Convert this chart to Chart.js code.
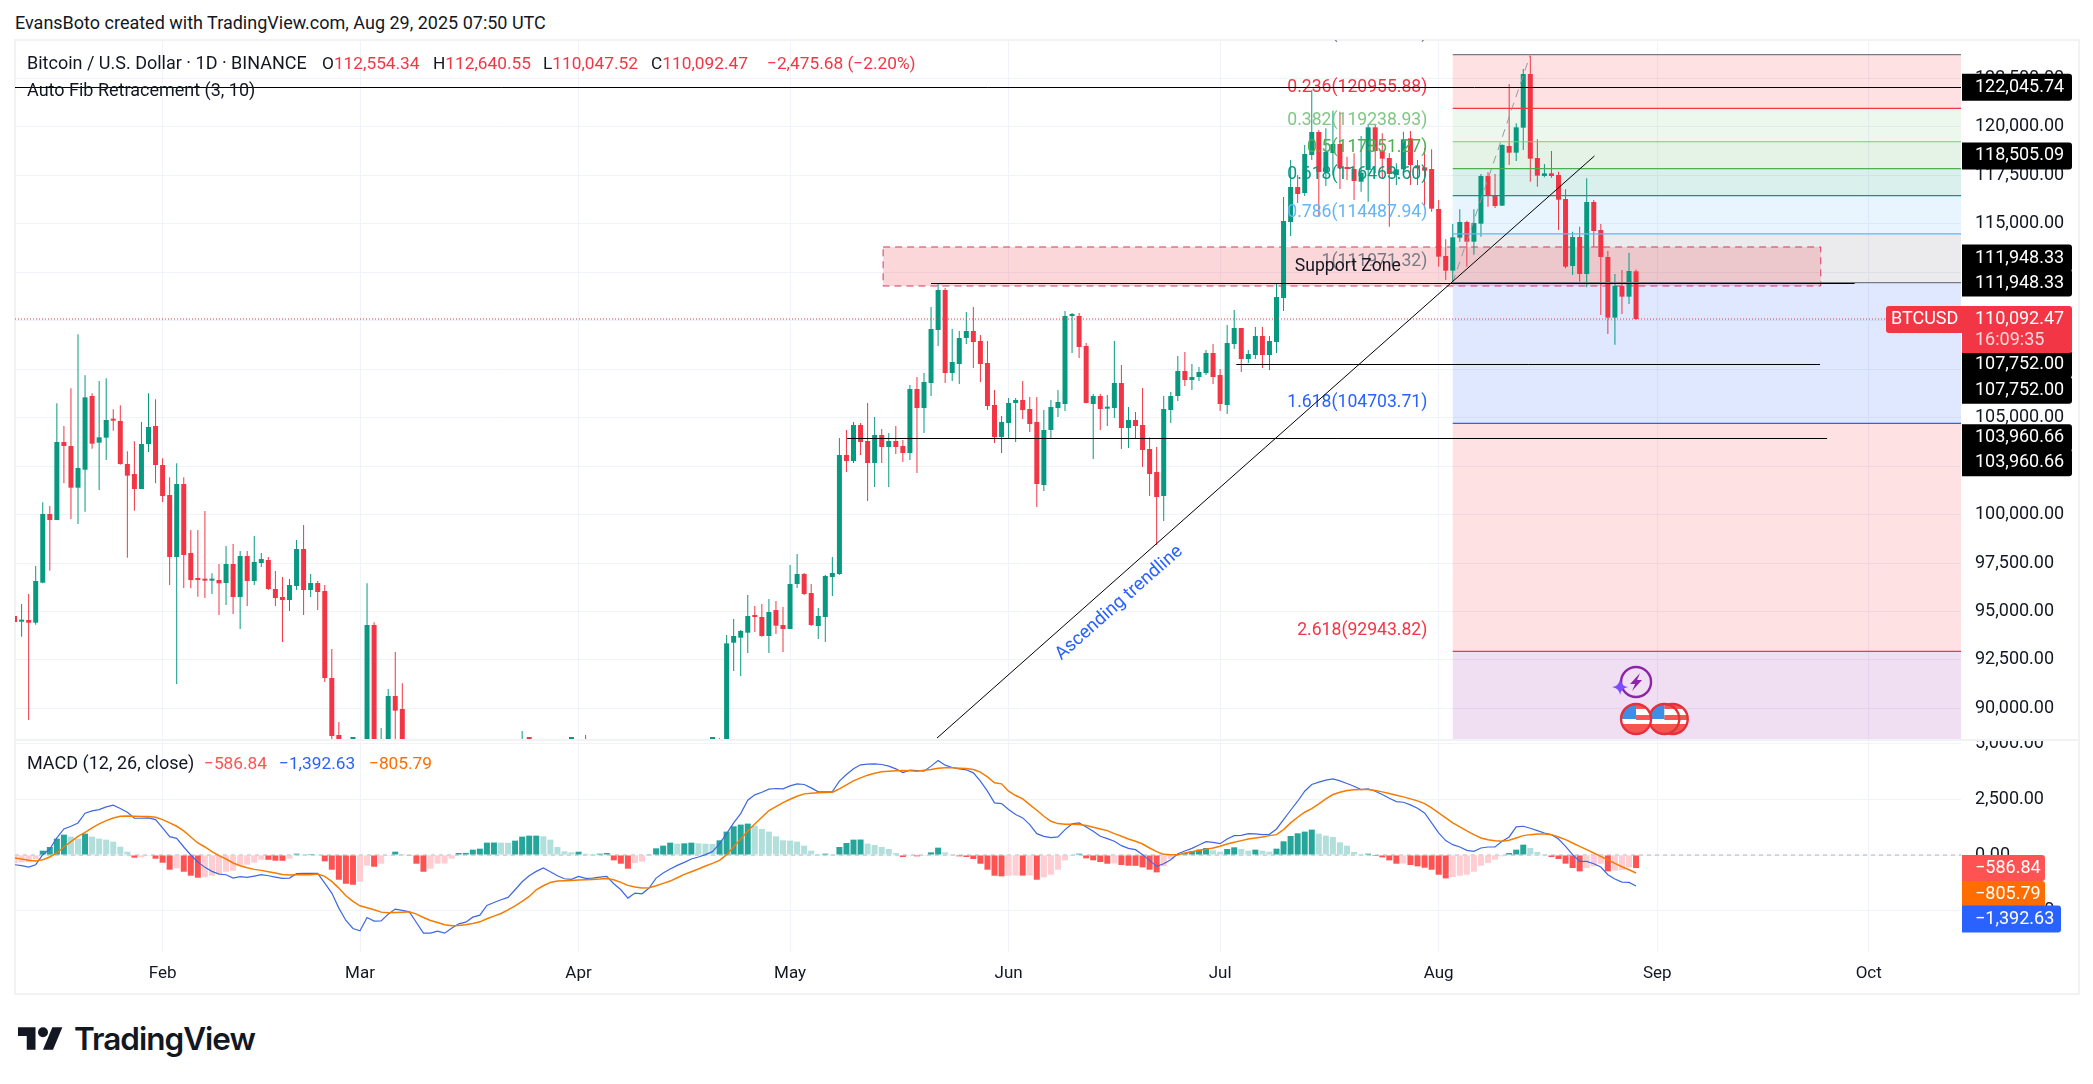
<!DOCTYPE html>
<html>
<head>
<meta charset="utf-8">
<title>BTCUSD</title>
<script src="https://cdn.jsdelivr.net/npm/chart.js@4"></script>
<style>
  html, body { margin: 0; padding: 0; background: #fff; }
  body { width: 2093px; height: 1084px; position: relative; overflow: hidden; font-family: Roboto, sans-serif; color: #131722; }
  canvas { position: absolute; left: 15px; }
  #priceChart { top: 40px; }
  #macdChart { top: 741px; }
  #frame { position: absolute; left: 14px; top: 39px; width: 2062px; height: 952px; border: 2px solid #f1f2f5; box-sizing: content-box; }
  #sep { position: absolute; left: 15px; top: 739px; width: 2063px; height: 2px; background: #f1f2f5; }
  .t { position: absolute; font-size: 18px; line-height: 24px; white-space: nowrap; }
  .n { font-size: 17.3px; }
  .r { color: #f23645; }
  #logo { position: absolute; left: 18px; top: 1027px; }
  #brand { position: absolute; left: 74px; top: 1018px; font-family: Inter, sans-serif; font-weight: 600; font-size: 31.5px; line-height: 42px; letter-spacing: -1px; color: #131722; }
</style>
</head>
<body>
<div id="frame"></div>
<canvas id="priceChart" width="2063" height="699"></canvas>
<div id="sep"></div>
<canvas id="macdChart" width="2063" height="253"></canvas>

<div class="t" style="left:15px;top:11px">EvansBoto created with TradingView.com, Aug 29, 2025 07:50 UTC</div>
<div class="t" style="left:27px;top:51px">Bitcoin / U.S. Dollar · 1D · BINANCE</div>
<div class="t n" style="left:322px;top:51px">O<span class="r">112,554.34</span></div>
<div class="t n" style="left:433px;top:51px">H<span class="r">112,640.55</span></div>
<div class="t n" style="left:543px;top:51px">L<span class="r">110,047.52</span></div>
<div class="t n" style="left:651px;top:51px">C<span class="r">110,092.47</span></div>
<div class="t n r" style="left:767px;top:51px">−2,475.68 (−2.20%)</div>
<div class="t" style="left:27px;top:78px">Auto Fib Retracement (3, 10)</div>
<div class="t" style="left:27px;top:751px">MACD (12, 26, close)</div>
<div class="t n" style="left:204px;top:751px;color:#ff5252">−586.84</div>
<div class="t n" style="left:279px;top:751px;color:#2962ff">−1,392.63</div>
<div class="t n" style="left:369px;top:751px;color:#ff6d00">−805.79</div>

<svg id="logo" width="45" height="23" viewBox="0 4 36 18"><path d="M14 22H7V11H0V4h14v18zM28 22h-8l7.5-18h8L28 22z" fill="#131722"/><circle cx="20" cy="8" r="4" fill="#131722"/></svg>
<div id="brand">TradingView</div>

<script>
// days are counted from Jan 11 2025 (index 0)
const opens = [
  94767,94475,94561,94423,96487,100031,99721,103746,103539,101389,
  102318,106120,103711,103969,104881,104829,102611,102095,101321,103643,104571,
  102559,101011,97812,101579,98018,96677,96625,96591,96625,96470,
  97451,95748,97863,96573,97502,97657,96161,95748,95593,96315,
  98225,96109,96470,96057,91568,88627,84700,84300,
  84400,86000,94303,86200,87200,90640,89968,86800,86200,80700,
  78600,82900,83700,81100,83900,84300,82600,84000,82700,86800,
  84200,84000,83800,86000,87500,87400,86900,87200,84300,82600,82400,
  82500,85100,82500,83100,83800,83500,78400,79100,76300,82600,
  79600,83400,85300,83700,84500,83600,84000,84900,84500,85100,
  85100,87500,93391,93649,93907,94750,94716,93735,95077,94303,
  94097,96419,96935,95954,94251,94716,96780,96935,103075,102765,
  104623,103797,102662,104107,103488,103797,103539,103178,106481,105500,
  106790,109525,111589,107306,107771,109112,109473,108957,107822,105655,104004,
  104726,105758,105913,105448,104778,101527,104365,105500,105707,110247,
  110247,108699,105707,106119,105466,105500,106790,104468,104881,104623,
  103385,102198,100959,105397,106120,107409,106945,107100,107306,108338,
  107203,105655,108802,109628,108029,108235,109215,108235,108906,111176,
  115098,116904,116594,118555,119742,117678,118658,119123,117919,117833,
  117179,117781,119983,118761,118400,117523,117815,119415,118022,117919,117833,
  115769,113343,112587,114289,115098,114083,115012,117471,116457,115941,
  119019,118675,119965,122735,118400,117471,117609,117523,116285,112827,
  114324,112415,116130,114685,113292,110162,111795,111245,112554.34,
];
const closes = [
  94458,94561,94423,96573,100031,99721,103746,103539,101389,102404,
  106051,103660,103987,104881,104847,102611,102009,101321,103643,104520,102559,
  100959,97812,101579,97915,96625,96625,96591,96625,96453,97451,
  95748,97863,96573,97554,97709,96161,95696,95593,96367,98225,
  96109,96470,96006,91568,88575,84700,84300,84400,
  86000,94303,86200,87200,90640,89883,86800,86200,80700,78600,
  82900,83700,81100,83900,84300,82600,84000,82700,86800,84200,
  84000,83800,86000,87500,87400,86900,87200,84300,82600,82400,82500,
  85100,82500,83100,83800,83500,78400,79100,76300,82600,79600,
  83400,85300,83700,84500,83600,84000,84900,84500,85100,85100,
  87500,93357,93735,93993,94767,94716,93735,94974,94269,94097,
  96419,96935,95903,94303,94767,96832,96986,103075,102765,104623,
  103746,102662,104107,103488,103797,103488,103178,106481,105500,106842,
  109577,111589,107306,107874,109112,109473,108906,107771,105603,104004,104778,
  105758,105913,105397,104675,101579,104365,105552,105810,110247,110300,
  108648,105758,106119,105448,105552,106790,104468,104881,104571,103333,
  102095,100908,105448,106120,107409,106945,107100,107358,108338,107100,
  105707,108854,109628,108029,108287,109215,108235,108957,111228,115149,
  116904,116543,118607,119742,117678,118710,119123,117867,117833,117213,
  117644,119983,118761,118366,117575,117815,119363,118039,117867,117747,115786,
  113309,112587,114307,115098,114083,115046,117471,116457,115923,119071,
  118675,119983,122735,118366,117489,117609,117471,116250,112793,114324,
  112415,116130,114633,113292,110162,111795,111245,112569,110092.47,
];
const highs = [
  94800,95387,95903,97347,100633,100443,105741,104571,106515,109301,
  107186,106257,106893,107031,105431,105638,103264,103780,104778,106257,105947,
  102903,101923,102645,101923,99205,99205,100185,96969,97451,98379,
  98482,98121,98121,98895,98018,97812,97089,96780,96677,98689,
  99463,96935,96573,96367,93065,89298,87000,85100,
  86500,96453,94441,88988,90999,92910,91293,86900,86500,84000,
  83600,84400,84300,85300,84700,85100,84800,84000,87400,87400,
  84800,84500,86000,88834,88524,88200,87800,87500,84600,83500,83900,
  85500,88627,83900,84700,84200,83800,81200,80800,83500,82700,
  84300,85900,86100,85800,86500,85500,85500,85100,85700,85300,
  88460,93787,94613,94045,95851,95283,95387,95645,95541,95232,
  97399,97967,96986,96419,95180,96883,97811,103952,104365,104778,
  104726,105758,105036,104417,104210,104571,103849,106687,107100,107306,
  110712,111899,111692,109577,109473,110454,110712,109267,108957,106429,105087,
  106016,106016,106893,106068,106068,105397,105913,106429,110505,110402,
  110402,108854,106223,106223,106171,108957,107719,105552,105294,106532,
  103982,103488,106120,106326,108183,108390,107771,107615,108493,108802,
  107513,109783,110557,109594,108493,109680,109680,109215,111950,116388,
  118297,117523,119071,121909,119845,119931,120843,120791,118469,118641,
  119535,120155,120103,119673,118641,118125,119759,119793,118297,118899,118847,
  116233,114203,114995,115751,115167,115751,117575,117661,117575,119105,
  122219,120189,122993,123663,119363,118091,118761,117695,116783,114599,
  114857,117351,116233,114995,113601,112415,112621,113515,112640.55,
];
const lows = [
  94400,93701,89401,94320,96453,97107,99721,101613,99773,99515,
  100151,103402,101269,102817,104331,102576,97777,100203,101321,103230,101613,
  100650,96367,91259,96212,96195,95765,95696,95903,94819,95335,
  94871,94097,95283,96367,97296,96109,95283,93426,95025,96109,
  94819,95748,95077,91362,88197,82200,82700,78200,
  83800,85000,85100,81500,86400,87800,84700,85900,80000,77400,
  76600,80600,79900,80800,83600,81900,82500,81100,82400,83600,
  83200,83600,83300,85500,86300,86000,85800,83500,81600,81600,81300,
  82400,82300,81100,81700,82400,77200,74500,76200,74600,78400,
  78900,82800,83000,83100,83600,83100,83700,84100,84300,83900,
  85000,87100,91930,91671,92858,93941,93701,92858,93839,92910,
  94097,96212,95851,94251,93581,93426,95799,96883,102198,102662,
  103075,100701,101424,102662,101424,103127,102714,102817,102146,104210,
  106119,108699,106790,106893,106739,108803,107564,106842,105397,103694,103178,
  103952,103746,104933,104262,100392,101217,103935,105036,105345,108338,
  108080,105741,102869,104365,104571,104984,103385,103436,103900,102456,
  100959,98431,99670,104726,105861,106635,106429,106893,107203,106739,
  105345,105191,108545,107358,107822,108029,107564,107461,108338,110505,
  114375,116078,116439,118297,115373,116955,117523,116801,117265,116233,
  116663,116147,117609,117351,114857,117007,117609,117007,117007,115803,115631,
  112793,112105,112019,114083,112793,113412,114341,115889,115820,115923,
  118039,118245,118813,117179,116921,117403,117386,114685,112707,112363,
  112019,111727,113825,110299,109319,108768,110351,110867,110047.52,
];

const macdLine = [
  -435,-480,-540,-435,15,270,765,1170,1290,1440,
  1875,1980,2040,2160,2235,2085,1920,1650,1650,1665,
  1590,1215,825,750,360,0,-315,-555,-735,-855,
  -885,-1035,-975,-1005,-945,-885,-930,-990,-1050,-1035,
  -840,-825,-825,-825,-1260,-1710,-2385,-2940,-3300,-3405,
  -2805,-2970,-2955,-2655,-2430,-2490,-2550,-3030,-3510,-3510,
  -3420,-3510,-3285,-3090,-3015,-2790,-2700,-2265,-2130,-2010,
  -1905,-1560,-1200,-930,-735,-585,-750,-930,-1065,-1095,
  -960,-1050,-1035,-990,-960,-1290,-1560,-1935,-1710,-1740,
  -1485,-1035,-810,-630,-465,-330,-180,-90,15,150,
  510,960,1440,1860,2460,2700,2820,2955,2985,2970,
  3105,3195,3165,3015,2835,2835,2850,3315,3615,3870,
  4050,4080,4095,4065,3990,3870,3705,3810,3795,3765,
  3990,4245,4035,3930,3870,3825,3690,3315,2865,2340,
  2310,2040,1815,1665,1365,960,840,780,810,1140,
  1395,1440,1260,1065,840,735,615,420,300,240,
  15,-240,-510,-390,-210,60,180,300,450,600,
  570,510,720,870,885,960,945,915,930,1170,
  1590,2010,2415,2865,3165,3270,3360,3420,3330,3210,
  3090,2940,2970,2865,2715,2550,2400,2370,2250,2100,
  1890,1440,990,645,465,360,210,165,315,360,
  360,615,810,1260,1290,1200,1095,990,915,720,
  390,15,-285,-285,-390,-540,-885,-1080,-1215,-1230,
  -1392.63,
];
const signalLine = [
  -135,-180,-240,-270,-210,-90,90,360,600,840,
  1020,1215,1395,1545,1665,1740,1755,1740,1725,1725,
  1695,1590,1440,1290,1080,810,540,360,150,-30,
  -180,-360,-480,-570,-645,-690,-750,-810,-870,-900,
  -885,-885,-885,-855,-960,-1185,-1485,-1830,-2085,-2280,
  -2370,-2460,-2565,-2595,-2580,-2565,-2550,-2655,-2805,-2940,
  -3030,-3135,-3180,-3165,-3135,-3075,-3000,-2865,-2745,-2625,
  -2460,-2280,-2085,-1860,-1560,-1380,-1230,-1170,-1155,-1140,
  -1125,-1110,-1095,-1080,-1050,-1110,-1230,-1365,-1440,-1485,
  -1470,-1380,-1275,-1170,-1020,-870,-750,-630,-495,-375,
  -240,15,375,720,1080,1395,1695,1995,2175,2355,
  2505,2640,2745,2775,2790,2805,2820,2970,3150,3330,
  3465,3585,3675,3735,3765,3780,3795,3780,3765,3810,
  3840,3900,3915,3915,3900,3885,3840,3720,3510,3240,
  3195,2865,2670,2520,2265,2010,1740,1515,1410,1380,
  1380,1365,1320,1245,1170,1095,960,840,720,615,
  495,315,150,30,15,15,90,150,210,255,
  315,390,495,570,645,720,765,810,870,915,
  1140,1440,1695,1920,2085,2295,2520,2715,2820,2895,
  2925,2940,2940,2895,2835,2760,2685,2610,2520,2430,
  2310,2115,1890,1665,1440,1260,1080,915,765,690,
  645,615,660,765,870,915,945,945,915,810,
  690,540,390,240,90,-60,-225,-375,-525,-660,
  -805.79,
];
const histogram = [
  -370,-330,-320,-180,195,360,735,915,825,735,
  960,825,735,690,600,375,150,-120,-100,-30,
  -165,-345,-660,-600,-750,-930,-1020,-1000,-930,-840,
  -750,-705,-480,-435,-345,-210,-215,-255,-260,-165,
  60,15,45,15,-285,-660,-1110,-1290,-1335,-1200,
  -480,-525,-390,-30,150,45,-30,-390,-750,-615,
  -390,-380,-165,90,95,240,285,555,560,555,
  550,645,825,870,870,840,690,360,165,120,
  150,60,45,60,90,-240,-390,-615,-360,-300,
  15,300,420,555,510,525,555,525,510,495,
  660,1050,1290,1365,1410,1320,1170,1050,840,660,
  645,600,420,195,45,60,15,360,540,690,
  695,510,450,360,270,90,-90,-15,-60,-15,
  120,330,120,10,-60,-90,-180,-390,-660,-930,
  -960,-930,-920,-925,-920,-1110,-1005,-885,-660,-240,
  -10,60,-150,-240,-315,-390,-380,-450,-480,-485,
  -555,-660,-780,-510,-180,15,90,165,240,315,
  210,150,270,345,270,195,240,195,150,285,
  615,855,975,1050,1140,960,870,810,570,420,
  135,15,60,-45,-105,-240,-390,-385,-450,-510,
  -570,-660,-885,-1050,-990,-930,-885,-750,-480,-360,
  -210,-60,90,240,465,315,135,5,-90,-180,
  -390,-585,-735,-585,-510,-390,-735,-700,-675,-550,
  -586.84,
];

const monthDays = [21, 49, 80, 110, 141, 171, 202, 233, 263];
const monthLabels = ["Feb", "Mar", "Apr", "May", "Jun", "Jul", "Aug", "Sep", "Oct"];
const priceTicks = [122500, 120000, 117500, 115000, 112500, 110000, 107500, 105000, 102500, 100000, 97500, 95000, 92500, 90000];
const macdTicks = [5000, 2500, 0, -2500];

const fibRatios = ["0", "0.236", "0.382", "0.5", "0.618", "0.786", "1", "1.618", "2.618"];
const fibPrices = [123731.21, 120955.88, 119238.93, 117851.27, 116463.60, 114487.94, 111971.32, 104703.71, 92943.82];
const fibColors = ["#787b86", "#f23645", "#81c784", "#4caf50", "#089981", "#64b5f6", "#787b86", "#2962ff", "#f23645"];
const fibBands = ["rgba(242,54,69,.15)", "rgba(129,199,132,.15)", "rgba(76,175,80,.15)", "rgba(8,153,129,.15)", "rgba(100,181,246,.15)", "rgba(120,123,134,.15)", "rgba(41,98,255,.15)", "rgba(242,54,69,.15)", "rgba(156,39,176,.15)"];
const fibStartDay = 204;

const hLinePrices = [122045.74, 111948.33, 107752, 103960.66];
const hLineFrom = [0, 130, 173.3, 118.1];
const hLineTo = [276.1, 261, 256.1, 257.1];
const zoneDays = [123.2, 256.2];
const zonePrices = [113808, 111796];
const trendDays = [130.85, 224.1];
const trendPrices = [88472, 118505.09];
const fibAnchorDays = [204, 215];
const eventDays = [235.2, 234, 230];
const lastPrice = 110092.47;

const green = "#089981";
const red = "#f23645";
const FONT = "Roboto, sans-serif";

const days = closes.map((c, i) => i);
const candleColors = closes.map((c, i) => (c >= opens[i] ? green : red));
const histColors = histogram.map((v, i) => {
  const prev = i ? histogram[i - 1] : v;
  if (v >= 0) return v >= prev && i ? "#26a69a" : "#b2dfdb";
  return v <= prev && i ? "#ff5252" : "#ffcdd2";
});

function rightTag(ctx, chart, text, y, color, width, height) {
  const left = chart.chartArea.right + 1;
  ctx.fillStyle = color;
  ctx.beginPath();
  ctx.roundRect(left, y - height / 2, width, height, [0, 3, 3, 0]);
  ctx.fill();
  ctx.fillStyle = "#fff";
  ctx.font = "18px " + FONT;
  ctx.textAlign = "left";
  ctx.textBaseline = "middle";
  ctx.fillText(text, left + 13, y);
}

function flagIcon(ctx, cx, cy) {
  ctx.save();
  ctx.beginPath();
  ctx.arc(cx, cy, 15, 0, Math.PI * 2);
  ctx.fillStyle = "#fff";
  ctx.fill();
  ctx.clip();
  ctx.fillStyle = "#f4574f";
  ctx.fillRect(cx - 15, cy + 5, 30, 10);
  ctx.fillRect(cx, cy - 4, 15, 5);
  ctx.fillRect(cx, cy - 15, 15, 5);
  ctx.fillStyle = "#3d8ee6";
  ctx.fillRect(cx - 15, cy - 15, 15, 15);
  ctx.restore();
  ctx.beginPath();
  ctx.arc(cx, cy, 15, 0, Math.PI * 2);
  ctx.strokeStyle = "#e8303c";
  ctx.lineWidth = 2.4;
  ctx.stroke();
}

function boltIcon(ctx, cx, cy) {
  ctx.beginPath();
  ctx.arc(cx, cy, 15, 0, Math.PI * 2);
  ctx.strokeStyle = "#8e24aa";
  ctx.lineWidth = 2.4;
  ctx.stroke();
  ctx.fillStyle = "#8e24aa";
  ctx.beginPath();
  ctx.moveTo(cx + 4, cy - 9);
  ctx.lineTo(cx - 6, cy + 2);
  ctx.lineTo(cx - 1, cy + 2);
  ctx.lineTo(cx - 4, cy + 9);
  ctx.lineTo(cx + 6, cy - 2);
  ctx.lineTo(cx + 1, cy - 2);
  ctx.closePath();
  ctx.fill();
  const sx = cx - 16, sy = cy + 5;
  ctx.fillStyle = "#7c4dff";
  ctx.beginPath();
  ctx.moveTo(sx, sy - 8);
  ctx.quadraticCurveTo(sx + 1, sy - 1, sx + 8, sy);
  ctx.quadraticCurveTo(sx + 1, sy + 1, sx, sy + 8);
  ctx.quadraticCurveTo(sx - 1, sy + 1, sx - 8, sy);
  ctx.quadraticCurveTo(sx - 1, sy - 1, sx, sy - 8);
  ctx.fill();
}

const priceUnderlay = {
  id: "priceUnderlay",
  beforeDatasetsDraw(chart) {
    const { ctx, chartArea: area, scales } = chart;
    const x = scales.x, y = scales.y;
    ctx.save();
    ctx.beginPath();
    ctx.rect(area.left, area.top, area.width, area.height);
    ctx.clip();
    const left = x.getPixelForValue(fibStartDay);
    fibPrices.forEach((p, i) => {
      const top = y.getPixelForValue(p);
      const prev = i ? y.getPixelForValue(fibPrices[i - 1]) : top;
      const bottom = i === fibPrices.length - 1 ? area.bottom : y.getPixelForValue(fibPrices[i + 1]);
      if (i) {
        ctx.fillStyle = fibBands[i - 1];
        ctx.fillRect(left, prev, area.right - left, top - prev);
      }
      if (i === fibPrices.length - 1) {
        ctx.fillStyle = fibBands[i];
        ctx.fillRect(left, top, area.right - left, bottom - top);
      }
    });
    // support zone
    const zx = x.getPixelForValue(zoneDays[0]);
    const zw = x.getPixelForValue(zoneDays[1]) - zx;
    const zy = y.getPixelForValue(zonePrices[0]);
    const zh = y.getPixelForValue(zonePrices[1]) - zy;
    ctx.fillStyle = "rgba(242,54,69,.2)";
    ctx.fillRect(zx, zy, zw, zh);
    ctx.setLineDash([7, 5]);
    ctx.strokeStyle = "#d9375a";
    ctx.lineWidth = 1;
    ctx.strokeRect(zx, zy, zw, zh);
    ctx.setLineDash([]);
    ctx.restore();
  },
  afterDatasetsDraw(chart) {
    const { ctx, chartArea: area, scales } = chart;
    const x = scales.x, y = scales.y;
    ctx.save();
    ctx.beginPath();
    ctx.rect(area.left, area.top, area.width, area.height);
    ctx.clip();
    const left = x.getPixelForValue(fibStartDay);
    // fib levels and their labels
    ctx.font = "17.6px " + FONT;
    ctx.textBaseline = "middle";
    ctx.textAlign = "right";
    const labelX = x.getPixelForValue(200.4);
    fibPrices.forEach((p, i) => {
      const py = y.getPixelForValue(p);
      ctx.strokeStyle = fibColors[i];
      ctx.lineWidth = 1.2;
      ctx.beginPath();
      ctx.moveTo(left, py);
      ctx.lineTo(area.right, py);
      ctx.stroke();
      ctx.fillStyle = fibColors[i];
      ctx.fillText(fibRatios[i] + "(" + p.toFixed(2) + ")", labelX, py - 21);
    });
    // fib anchor line
    ctx.setLineDash([8, 6]);
    ctx.strokeStyle = "#9598a1";
    ctx.lineWidth = 1;
    ctx.beginPath();
    ctx.moveTo(x.getPixelForValue(fibAnchorDays[0]), y.getPixelForValue(fibPrices[6]));
    ctx.lineTo(x.getPixelForValue(fibAnchorDays[1]), y.getPixelForValue(fibPrices[0]));
    ctx.stroke();
    ctx.setLineDash([]);
    // last price dotted line
    ctx.setLineDash([1, 2]);
    ctx.strokeStyle = red;
    ctx.beginPath();
    ctx.moveTo(area.left, y.getPixelForValue(lastPrice));
    ctx.lineTo(area.right, y.getPixelForValue(lastPrice));
    ctx.stroke();
    ctx.setLineDash([]);
    // drawn black lines
    ctx.strokeStyle = "#000";
    ctx.lineWidth = 1;
    hLinePrices.forEach((p, i) => {
      const py = Math.round(y.getPixelForValue(p)) + 0.5;
      ctx.beginPath();
      ctx.moveTo(x.getPixelForValue(hLineFrom[i]), py);
      ctx.lineTo(x.getPixelForValue(hLineTo[i]), py);
      ctx.stroke();
    });
    ctx.beginPath();
    ctx.moveTo(x.getPixelForValue(trendDays[0]), y.getPixelForValue(trendPrices[0]));
    ctx.lineTo(x.getPixelForValue(trendDays[1]), y.getPixelForValue(trendPrices[1]));
    ctx.stroke();
    // text notes
    ctx.fillStyle = "#131722";
    ctx.textAlign = "left";
    ctx.font = "17.6px " + FONT;
    ctx.fillText("Support Zone", x.getPixelForValue(181.6), y.getPixelForValue(112776));
    ctx.save();
    ctx.translate(x.getPixelForValue(156.7), y.getPixelForValue(95438));
    ctx.rotate(-0.725);
    ctx.textAlign = "center";
    ctx.fillStyle = "#2962ff";
    ctx.font = "18.5px " + FONT;
    ctx.fillText("Ascending trendline", 0, 0);
    ctx.restore();
    // event icons
    const flagY = area.bottom - 20;
    eventDays.forEach((d) => flagIcon(ctx, x.getPixelForValue(d), flagY));
    boltIcon(ctx, x.getPixelForValue(230), area.bottom - 57);
    ctx.restore();
  },
  afterDraw(chart) {
    const { ctx, scales } = chart;
    const y = scales.y;
    const w = 110, h = 27;
    [[122045.74, 0], [118505.09, 0], [111948.33, -25], [111948.33, 0],
     [107752, 26], [107752, 0], [103960.66, 25], [103960.66, 0]].forEach(([p, nudge]) => {
      rightTag(ctx, chart, p.toLocaleString("en-US", { minimumFractionDigits: 2 }), y.getPixelForValue(p) + nudge, "#000", w, h);
    });
    // last price tag
    const py = y.getPixelForValue(lastPrice);
    const left = chart.chartArea.right + 1;
    ctx.fillStyle = red;
    ctx.beginPath();
    ctx.roundRect(left, py - 13, w, 47, [0, 3, 3, 0]);
    ctx.fill();
    ctx.beginPath();
    ctx.roundRect(left - 76, py - 13, 76, 27, [3, 0, 0, 3]);
    ctx.fill();
    ctx.fillStyle = "#fff";
    ctx.font = "18px " + FONT;
    ctx.textAlign = "left";
    ctx.textBaseline = "middle";
    ctx.fillText("110,092.47", left + 13, py);
    ctx.fillText("BTCUSD", left - 71, py);
    ctx.fillStyle = "#ffd7da";
    ctx.fillText("16:09:35", left + 13, py + 21);
  },
};

const macdOverlay = {
  id: "macdOverlay",
  beforeDatasetsDraw(chart) {
    const { ctx, chartArea: area, scales } = chart;
    const zero = scales.y.getPixelForValue(0);
    ctx.save();
    ctx.setLineDash([4, 4]);
    ctx.strokeStyle = "#b2b5be";
    ctx.lineWidth = 1;
    ctx.beginPath();
    ctx.moveTo(area.left, zero);
    ctx.lineTo(area.right, zero);
    ctx.stroke();
    ctx.restore();
  },
  afterDraw(chart) {
    const { ctx, scales } = chart;
    const y = scales.y;
    const hw = 26;
    const zero = y.getPixelForValue(0);
    rightTag(ctx, chart, "−586.84", zero + 13, "#ff5252", 83, hw);
    rightTag(ctx, chart, "−805.79", zero + 39, "#ff6d00", 83, hw);
    rightTag(ctx, chart, "−1,392.63", zero + 64, "#2962ff", 99, hw + 1);
  },
};

function fixedY(ticks, min, max) {
  return {
    position: "right",
    min,
    max,
    afterBuildTicks(axis) {
      axis.ticks = ticks.map((value) => ({ value }));
    },
    afterFit(axis) {
      axis.width = 117;
      axis.paddingTop = 0;
      axis.paddingBottom = 0;
    },
    border: { display: false },
    grid: { color: "#f0f3fa", drawTicks: false },
    ticks: {
      padding: 14,
      color: "#131722",
      font: { family: FONT, size: 18 },
      autoSkip: false,
      callback: (v) => v.toLocaleString("en-US", { minimumFractionDigits: 2 }).replace("-", "−"),
    },
  };
}

function fixedX(showLabels) {
  return {
    type: "linear",
    min: 0.064,
    max: 276.09,
    offset: false,
    afterBuildTicks(axis) {
      axis.ticks = monthDays.map((value) => ({ value }));
    },
    afterFit(axis) {
      axis.height = showLabels ? 42 : 0;
      axis.paddingLeft = 0;
      axis.paddingRight = 0;
    },
    border: { display: false },
    grid: { color: "#f0f3fa", drawTicks: false, offset: false },
    ticks: {
      display: showLabels,
      padding: 12,
      color: "#131722",
      maxRotation: 0,
      autoSkip: false,
      font: { family: FONT, size: 17 },
      callback: (v) => monthLabels[monthDays.indexOf(v)],
    },
  };
}

new Chart("priceChart", {
  type: "bar",
  data: {
    datasets: [
      {
        data: days.map((d) => ({ x: d, y: [lows[d], highs[d]] })),
        backgroundColor: candleColors,
        barThickness: 1,
        grouped: false,
        inflateAmount: 0,
      },
      {
        data: days.map((d) => ({ x: d, y: [opens[d], closes[d]] })),
        backgroundColor: candleColors,
        barThickness: 5,
        minBarLength: 2,
        grouped: false,
        inflateAmount: 0,
      },
    ],
  },
  options: {
    responsive: false,
    animation: false,
    events: [],
    devicePixelRatio: 1,
    layout: { padding: 0 },
    plugins: { legend: { display: false }, tooltip: { enabled: false } },
    scales: { x: fixedX(false), y: fixedY(priceTicks, 88421, 124489) },
  },
  plugins: [priceUnderlay],
});

new Chart("macdChart", {
  type: "bar",
  data: {
    datasets: [
      {
        type: "line",
        data: days.map((d) => ({ x: d, y: signalLine[d] })),
        borderColor: "#f57c00",
        borderWidth: 1.5,
        pointRadius: 0,
        order: 1,
      },
      {
        type: "line",
        data: days.map((d) => ({ x: d, y: macdLine[d] })),
        borderColor: "#3d68e0",
        borderWidth: 1.2,
        pointRadius: 0,
        order: 2,
      },
      {
        data: days.map((d) => ({ x: d, y: histogram[d] })),
        backgroundColor: histColors,
        barThickness: 6,
        grouped: false,
        inflateAmount: 0,
        order: 3,
      },
    ],
  },
  options: {
    responsive: false,
    animation: false,
    events: [],
    devicePixelRatio: 1,
    layout: { padding: 0 },
    plugins: { legend: { display: false }, tooltip: { enabled: false } },
    scales: { x: fixedX(true), y: fixedY(macdTicks, -4355, 5119) },
  },
  plugins: [macdOverlay],
});
</script>
</body>
</html>
